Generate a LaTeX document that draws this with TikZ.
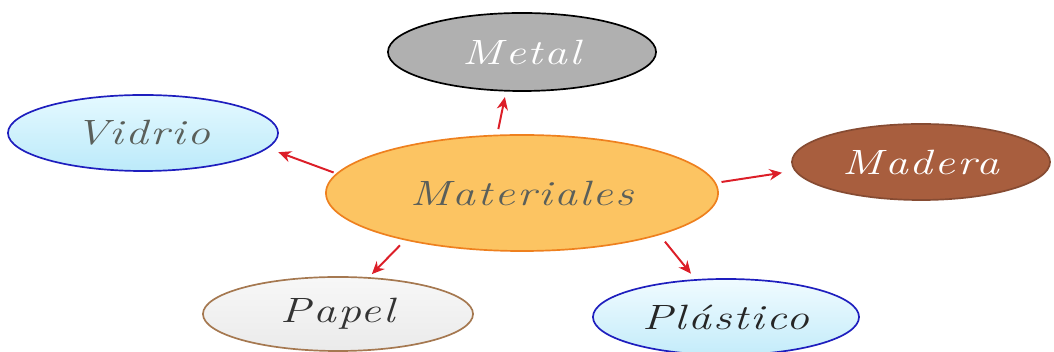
\documentclass[tikz,border=0pt]{standalone}
\usepackage{fontspec}
\usetikzlibrary{arrows.meta,shapes.geometric}

\newfontfamily\cursfont{Latin Modern Roman}[FakeStretch=1.3,LetterSpace=6]

\definecolor{matfill}{RGB}{252,196,98}
\definecolor{matdraw}{RGB}{238,128,30}
\definecolor{metalfill}{RGB}{176,176,176}
\definecolor{woodfill}{RGB}{168,94,62}
\definecolor{glassdraw}{RGB}{30,30,190}
\definecolor{glasstop}{RGB}{228,249,255}
\definecolor{glassbot}{RGB}{188,234,250}
\definecolor{plastop}{RGB}{240,251,255}
\definecolor{plasbot}{RGB}{196,236,250}
\definecolor{paperdraw}{RGB}{165,120,80}
\definecolor{arrowred}{RGB}{220,30,40}
\definecolor{txtgray}{RGB}{90,95,90}

\newcommand{\lblfont}{\cursfont\itshape\fontsize{25}{30}\selectfont}

\begin{document}
\begin{tikzpicture}[x=0.025cm,y=-0.025cm]
\useasboundingbox (0,0) rectangle (1054,352);
\begin{scope}[every node/.style={ellipse,draw,line width=1.2pt,inner sep=0pt,font=\lblfont}]
    \node[minimum width=9.8cm,minimum height=2.9cm,fill=matfill,draw=matdraw,text=txtgray] (mat) at (522,193) {Materiales};
    \node[minimum width=6.7cm,minimum height=1.95cm,fill=metalfill,draw=black,text=white] (metal) at (522,52) {Metal};
    \node[minimum width=6.75cm,minimum height=1.9cm,top color=glasstop,bottom color=glassbot,draw=glassdraw,text=txtgray] (vidrio) at (143,133) {Vidrio};
    \node[minimum width=6.45cm,minimum height=1.9cm,fill=woodfill,draw=woodfill!80!black,text=white] (madera) at (921,162) {Madera};
    \node[minimum width=6.75cm,minimum height=1.85cm,top color=gray!6,bottom color=gray!16,draw=paperdraw,text=black!80] (papel) at (338,314) {Papel};
    \node[minimum width=6.65cm,minimum height=1.9cm,top color=plastop,bottom color=plasbot,draw=glassdraw,text=black!85] (plastico) at (726,317) {Plástico};
\end{scope}
\begin{scope}[>={Stealth[length=9pt,width=8pt]},
              every edge/.style={draw=arrowred,line width=1.4pt}]
    \path [->,shorten <=4pt,shorten >=4pt] (mat.113) edge (metal.248);
    \path [->,shorten <=2pt,shorten >=8pt] (mat.174) edge (vidrio.353);
    \path [->,shorten <=4pt,shorten >=9pt] (mat.3) edge (madera.184);
    \path [->,shorten <=5pt,shorten >=3pt] (mat.202) edge (papel.50);
    \path [->,shorten <=6pt,shorten >=5pt] (mat.343) edge (plastico.129);
\end{scope}
\end{tikzpicture}
\end{document}
